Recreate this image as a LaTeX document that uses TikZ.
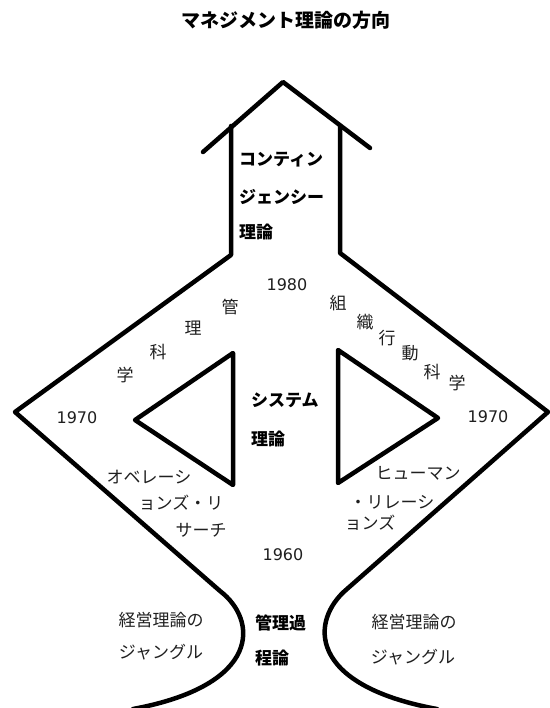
\documentclass[tikz,border=0pt]{standalone}
\usepackage{fontspec}
\setmainfont{Noto Sans CJK JP}
\newfontfamily\digitfont{DejaVu Sans}
\tikzset{
  outline/.style={line width=4.5pt, line join=round, line cap=round},
  lbl/.style={inner sep=0pt, font=\fontsize{17}{17}\selectfont, text=black!88},
  blbl/.style={inner sep=0pt, anchor=west, font=\fontsize{17}{17}\selectfont\bfseries},
  yr/.style={inner sep=0pt, font=\digitfont\fontsize{16}{16}\selectfont, text=black!88},
}
\begin{document}
\begin{tikzpicture}[x=1pt, y=-1pt]
\useasboundingbox (0,0) rectangle (549,708);
% title
\node[inner sep=0pt, font=\fontsize{19}{19}\selectfont\bfseries] (title) at (286,20) {マネジメント理論の方向};
% arrow head
\draw[outline] (203,152) -- (283,82) -- (370,148);
% left body
\draw[outline] (231,126) -- (231,255) -- (15,412) -- (220,591)
  .. controls (258,620) and (262,685) .. (133,709);
% right body
\draw[outline] (340,126) -- (340,253) -- (548,412) -- (347,589)
  .. controls (310,620) and (306,685) .. (437,709);
% triangles
\draw[outline] (233,353) -- (135,420) -- (233,485) -- cycle;
\draw[outline] (338,350) -- (438,418) -- (338,483) -- cycle;
% bold labels
\node[blbl] (c1) at (239,160) {コンティン};
\node[blbl] (c2) at (239,197) {ジェンシー};
\node[blbl] (c3) at (239,232) {理論};
\node[blbl] (s1) at (251,400) {システム};
\node[blbl] (s2) at (251,439) {理論};
\node[blbl] (k1) at (255,623) {管理過};
\node[blbl] (k2) at (255,658) {程論};
% years
\node[yr] (y80) at (287,285) {1980};
\node[yr] (y70l) at (77,418) {1970};
\node[yr] (y70r) at (488,417) {1970};
\node[yr] (y60) at (283,555) {1960};
% management science
\node[lbl] (m1) at (230,307) {管};
\node[lbl] (m2) at (193,328) {理};
\node[lbl] (m3) at (158,352) {科};
\node[lbl] (m4) at (125,375) {学};
% organizational behavior
\node[lbl] (o1) at (338,303) {組};
\node[lbl] (o2) at (365,322) {織};
\node[lbl] (o3) at (387,338) {行};
\node[lbl] (o4) at (410,353) {動};
\node[lbl] (o5) at (432,372) {科};
\node[lbl] (o6) at (457,383) {学};
% operations research
\node[lbl] (r1) at (149,477) {オベレーシ};
\node[lbl] (r2) at (181,503) {ョンズ・リ};
\node[lbl] (r3) at (201,530) {サーチ};
% human relations
\node[lbl] (h1) at (418,473) {ヒューマン};
\node[lbl] (h2) at (392,502) {・リレーシ};
\node[lbl] (h3) at (370,523) {ョンズ};
% jungle
\node[lbl] (j1) at (161,620) {経営理論の};
\node[lbl] (j2) at (161,652) {ジャングル};
\node[lbl] (j3) at (414,622) {経営理論の};
\node[lbl] (j4) at (413,657) {ジャングル};
\end{tikzpicture}
\end{document}
